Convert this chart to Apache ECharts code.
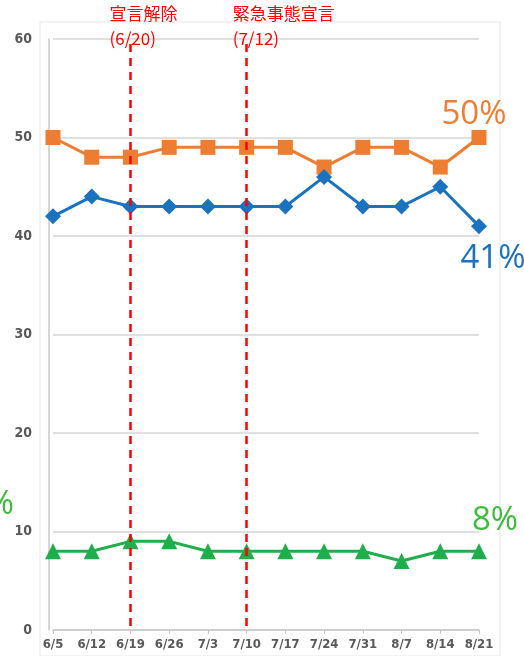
<!DOCTYPE html>
<html>
<head>
<meta charset="utf-8">
<script src="https://cdn.jsdelivr.net/npm/echarts@6/dist/echarts.min.js"></script>
<style>
  html, body { margin: 0; padding: 0; background: #fff; }
  #main { width: 524px; height: 656px; }
</style>
</head>
<body>
<div id="main"></div>
<script>
// weekly survey dates
const dates = ['6/5', '6/12', '6/19', '6/26', '7/3', '7/10', '7/17', '7/24', '7/31', '8/7', '8/14', '8/21']
// percent values per series
const orangeVals = [50, 48, 48, 49, 49, 49, 49, 47, 49, 49, 47, 50]
const blueVals = [42, 44, 43, 43, 43, 43, 43, 46, 43, 43, 45, 41]
const greenVals = [8, 8, 9, 9, 8, 8, 8, 8, 8, 7, 8, 8]
const yTicks = [0, 10, 20, 30, 40, 50, 60]
// event markers
const events = [
  { at: '6/19', text: '宣言解除\n(6/20)', dx: -21 },
  { at: '7/10', text: '緊急事態宣言\n(7/12)', dx: -14 }
]

const ORANGE = '#ED7D31'
const BLUE = '#1B72BE'
const GREEN = '#1FAE4B'

// put a big % label on the last point only
const withEndLabel = (vals, color, offset) => vals.map((v, i) => {
  if (i !== vals.length - 1) return v
  return {
    value: v,
    label: {
      show: true, formatter: '{c}%', color: color, fontSize: 33,
      fontFamily: 'Open Sans', offset: offset, position: 'inside'
    }
  }
})

const chart = echarts.init(document.getElementById('main'))

const option = {
  backgroundColor: '#fff',
  animation: false,
  grid: { left: 53, right: 45, top: 39, bottom: 26 },
  graphic: [
    { type: 'rect', shape: { x: 40, y: 22, width: 460, height: 634 }, style: { fill: 'none', stroke: '#f0f0f0', lineWidth: 1.5 }, z: -1 },
    { type: 'text', left: -32, top: 488, style: { text: '8%', fill: '#3DBB3D', fontSize: 33, fontFamily: 'Open Sans' } }
  ],
  xAxis: {
    type: 'category',
    data: dates,
    boundaryGap: false,
    axisLine: { lineStyle: { color: '#c8c8c8', width: 1.5 } },
    axisTick: { show: true, length: 4, lineStyle: { color: '#c8c8c8' } },
    axisLabel: { color: '#595959', fontSize: 13, fontWeight: 'bold', margin: 8, interval: 0, fontFamily: 'DejaVu Sans Condensed' },
    splitLine: { show: false }
  },
  yAxis: {
    type: 'value',
    min: yTicks[0],
    max: yTicks[yTicks.length - 1],
    interval: 10,
    offset: 4,
    axisLine: { show: true, lineStyle: { color: '#c8c8c8', width: 1.5 } },
    axisTick: { show: false },
    axisLabel: { color: '#595959', fontSize: 14, fontWeight: 'bold', margin: 17, fontFamily: 'DejaVu Sans Condensed' },
    splitLine: { lineStyle: { color: '#d6d6d6', width: 1.5 } }
  },
  series: [
    {
      name: 'orange', type: 'line', data: withEndLabel(orangeVals, ORANGE, [-5, -23]),
      symbol: 'rect', symbolSize: 15,
      lineStyle: { color: ORANGE, width: 3 },
      itemStyle: { color: ORANGE },
      z: 3,
      markLine: {
        symbol: 'none', silent: true,
        lineStyle: { color: '#FF0000', type: [8, 6], width: 2.5 },
        data: events.map(e => [
          { xAxis: e.at, y: 44 },
          {
            xAxis: e.at, yAxis: 0,
            label: {
              show: true, position: 'start', formatter: e.text, color: '#FF0000',
              fontSize: 17, lineHeight: 25, align: 'left', verticalAlign: 'bottom',
              fontFamily: 'Noto Sans CJK JP', offset: [e.dx, 12]
            }
          }
        ])
      }
    },
    {
      name: 'blue', type: 'line', data: withEndLabel(blueVals, BLUE, [14, 32]),
      symbol: 'diamond', symbolSize: 16,
      lineStyle: { color: BLUE, width: 3 },
      itemStyle: { color: BLUE },
      z: 4
    },
    {
      name: 'green', type: 'line', data: withEndLabel(greenVals, '#3DBB3D', [16, -31]),
      symbol: 'triangle', symbolSize: 16,
      lineStyle: { color: GREEN, width: 3 },
      itemStyle: { color: GREEN },
      z: 4
    }
  ]
}

chart.setOption(option)
</script>
</body>
</html>
